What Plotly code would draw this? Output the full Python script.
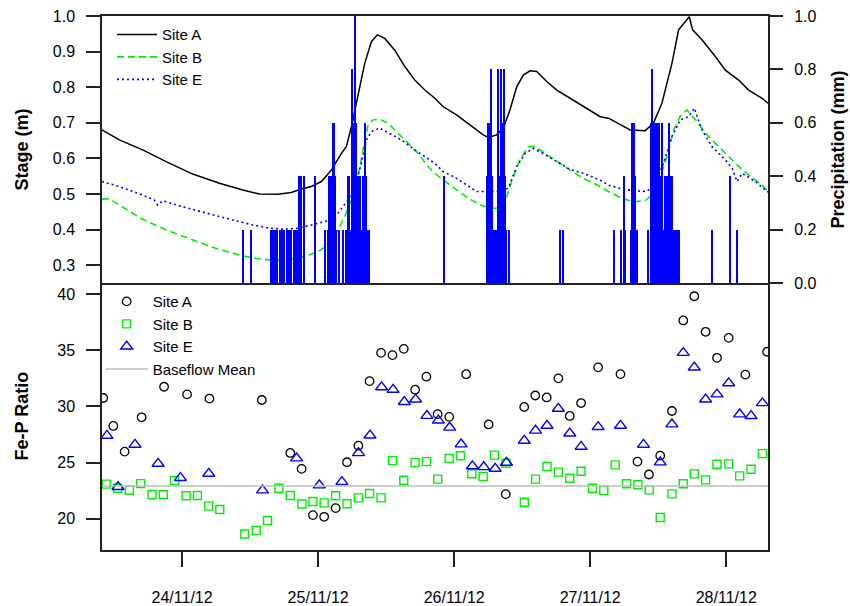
import pandas as pd
import plotly.graph_objects as go

# ---------------- data ----------------
BASE = pd.Timestamp("2012-11-24 00:00")        # hours below are counted from this instant
X_START = "2012-11-23 09:52"
X_END = "2012-11-28 07:22"

# Stage (m) – hours since BASE and values
stage_A_h = [-14.14, -11.08, -6.96, -2.83, 1.87, 6.59, 10.71, 13.66, 16.90, 19.26, 21.03, 22.80, 24.57,
             26.33, 28.10, 28.98, 29.87, 31.03, 32.22, 33.40, 34.46, 35.75, 37.52, 39.29, 41.05, 42.82,
             44.59, 46.06, 48.42, 50.77, 53.12, 54.01, 55.49, 56.66, 57.84, 59.03, 60.19, 61.38, 62.56,
             64.33, 66.10, 68.45, 70.80, 73.75, 75.22, 77.58, 79.05, 81.70, 83.17, 84.65, 86.42, 87.59,
             88.77, 89.48, 90.06, 91.72, 94.07, 95.84, 98.19, 99.96, 102.33, 103.39]
stage_A = [0.680, 0.652, 0.624, 0.591, 0.556, 0.530, 0.511, 0.500, 0.499, 0.504, 0.514, 0.521, 0.535,
           0.567, 0.614, 0.633, 0.689, 0.773, 0.867, 0.928, 0.947, 0.937, 0.904, 0.858, 0.820, 0.792,
           0.769, 0.745, 0.722, 0.694, 0.666, 0.659, 0.666, 0.685, 0.736, 0.801, 0.834, 0.846, 0.844,
           0.816, 0.792, 0.769, 0.745, 0.717, 0.713, 0.694, 0.680, 0.678, 0.699, 0.755, 0.867, 0.961,
           0.986, 0.998, 0.961, 0.933, 0.886, 0.848, 0.820, 0.792, 0.769, 0.755]

stage_B_h = [-14.14, -12.85, -11.08, -6.96, -2.83, 1.87, 6.01, 10.71, 13.08, 15.43, 16.90, 19.26, 21.61,
             23.96, 25.73, 27.22, 28.68, 29.87, 31.03, 31.92, 32.80, 33.68, 34.87, 36.34, 38.10, 39.87,
             41.64, 43.40, 44.59, 46.06, 48.42, 50.77, 53.12, 54.61, 56.08, 57.26, 58.43, 59.61, 61.08,
             62.26, 64.03, 66.10, 68.45, 70.80, 73.75, 75.22, 77.58, 79.63, 81.70, 82.88, 84.35, 85.54,
             86.70, 87.89, 89.07, 90.59, 92.89, 95.26, 97.61, 99.96, 102.33, 103.39]
stage_B = [0.485, 0.487, 0.469, 0.429, 0.399, 0.371, 0.347, 0.326, 0.319, 0.315, 0.313, 0.318, 0.324,
           0.338, 0.357, 0.390, 0.436, 0.483, 0.549, 0.624, 0.694, 0.708, 0.710, 0.699, 0.670, 0.642,
           0.614, 0.577, 0.558, 0.539, 0.511, 0.485, 0.466, 0.460, 0.460, 0.492, 0.549, 0.596, 0.633,
           0.633, 0.614, 0.591, 0.567, 0.544, 0.521, 0.507, 0.488, 0.478, 0.481, 0.497, 0.549, 0.605,
           0.680, 0.719, 0.736, 0.708, 0.661, 0.624, 0.586, 0.553, 0.525, 0.506]

stage_E_h = [-14.14, -11.08, -6.96, -4.90, -4.31, -3.43, 0.11, 4.24, 8.94, 12.48, 15.43, 18.08, 20.43,
             23.38, 25.45, 27.50, 29.27, 30.45, 31.63, 32.52, 33.40, 34.87, 36.64, 38.70, 41.05, 42.82,
             44.59, 46.06, 48.42, 51.96, 54.01, 56.08, 57.54, 59.03, 60.50, 61.96, 63.73, 66.10, 68.45,
             70.80, 73.75, 75.22, 77.58, 79.93, 82.00, 83.47, 84.94, 86.42, 87.89, 89.36, 90.36, 91.72,
             93.49, 95.84, 97.03, 97.91, 98.79, 101.14, 103.39]
stage_E = [0.535, 0.521, 0.497, 0.483, 0.469, 0.481, 0.464, 0.446, 0.427, 0.413, 0.404, 0.401, 0.404,
           0.415, 0.424, 0.446, 0.483, 0.521, 0.586, 0.652, 0.675, 0.685, 0.670, 0.652, 0.624, 0.605,
           0.586, 0.563, 0.544, 0.507, 0.507, 0.507, 0.516, 0.577, 0.614, 0.628, 0.614, 0.591, 0.569,
           0.558, 0.539, 0.525, 0.514, 0.509, 0.507, 0.530, 0.586, 0.661, 0.708, 0.717, 0.741, 0.680,
           0.633, 0.596, 0.572, 0.535, 0.558, 0.535, 0.505]

# Precipitation (mm), 15-minute totals (non-zero intervals only)
precip_h = [10.75, 12.25,
            15.75, 16.0, 16.25, 16.5, 16.75, 17.25, 17.5, 17.75, 18.0, 18.5, 18.75, 19.0, 19.25,
            19.75, 20.0, 20.25, 20.5, 20.75, 21.0, 21.5, 23.5, 25.25,
            25.75, 26.0, 26.25, 26.5, 26.75, 27.0, 27.25, 27.75, 28.5,
            29.0, 29.25, 29.5, 29.75, 30.0, 30.25, 30.5, 30.75, 31.0, 31.25, 31.5, 31.75, 32.0,
            32.25, 32.5, 32.75, 33.0,
            46.25,
            53.75, 54.0, 54.25, 54.5, 54.75, 55.0, 55.25, 55.5, 55.75, 56.0, 56.25, 56.5, 56.75,
            57.0, 57.25, 57.75,
            66.75, 67.25,
            76.25, 77.5, 78.0, 78.25, 79.25, 79.5, 79.75, 80.0, 80.25, 82.25,
            82.75, 83.0, 83.25, 83.5, 83.75, 84.0, 84.25, 84.5, 84.75, 85.0, 85.25, 85.5, 85.75,
            86.0, 86.25, 86.5, 86.75, 87.0, 87.25, 87.5, 87.75,
            93.5, 96.75, 98.0]
precip = [0.2, 0.2,
          0.2, 0.2, 0.2, 0.2, 0.2, 0.2, 0.2, 0.2, 0.2, 0.2, 0.2, 0.2, 0.2,
          0.2, 0.2, 0.2, 0.2, 0.4, 0.4, 0.4, 0.4, 0.2,
          0.2, 0.4, 0.4, 0.4, 0.6, 0.4, 0.2, 0.2, 0.2,
          0.2, 0.4, 0.4, 0.2, 0.8, 0.6, 1.0, 0.6, 0.4, 0.4, 0.4, 0.2, 0.4,
          0.6, 0.4, 0.2, 0.2,
          0.4,
          0.4, 0.6, 0.6, 0.8, 0.4, 0.2, 0.2, 0.2, 0.8, 0.4, 0.8, 0.6, 0.8,
          0.4, 0.2, 0.2,
          0.2, 0.2,
          0.2, 0.2, 0.4, 0.2, 0.2, 0.6, 0.6, 0.4, 0.2, 0.2,
          0.6, 0.8, 0.6, 0.6, 0.6, 0.4, 0.6, 0.4, 0.6, 0.2, 0.4, 0.4, 0.4,
          0.6, 0.4, 0.4, 0.2, 0.2, 0.2, 0.2, 0.2,
          0.2, 0.4, 0.2]

# Fe-P ratio samples – hours since BASE and values
feP_A_h = [-13.91, -12.14, -10.14, -7.14, -3.18, 0.88, 4.82, 14.07, 19.09, 21.08, 23.08, 25.06, 27.09,
           29.09, 31.10, 33.07, 35.10, 37.11, 39.11, 41.11, 43.10, 45.08, 47.12, 50.12, 54.08, 57.10,
           60.35, 62.31, 64.33, 66.38, 68.39, 70.39, 73.40, 77.34, 80.34, 82.36, 84.35, 86.42, 88.42,
           90.36, 92.36, 94.37, 96.42, 99.37, 103.21]
feP_A = [30.75, 28.26, 25.97, 29.03, 31.75, 31.07, 30.69, 30.57, 25.85, 24.43, 20.31, 20.16, 20.93,
         25.02, 26.50, 32.25, 34.77, 34.57, 35.13, 31.49, 32.65, 29.31, 29.07, 32.87, 28.39, 22.18,
         29.95, 30.97, 30.80, 32.50, 29.15, 30.30, 33.48, 32.88, 25.08, 23.93, 25.61, 29.59, 37.66,
         39.82, 36.65, 34.33, 36.11, 32.83, 34.87]

feP_B_h = [-13.38, -11.38, -9.31, -7.32, -5.30, -3.30, -1.31, 0.71, 2.70, 4.70, 6.65, 11.06, 13.08,
           15.08, 17.07, 19.09, 21.14, 23.08, 25.06, 27.09, 29.09, 31.10, 33.07, 35.10, 37.11, 39.11,
           41.11, 43.10, 45.10, 47.12, 49.10, 51.11, 53.11, 55.10, 57.14, 60.37, 62.35, 64.38, 66.38,
           68.39, 70.39, 72.39, 74.40, 76.40, 78.40, 80.41, 82.41, 84.35, 86.42, 88.42, 90.36, 92.36,
           94.37, 96.42, 98.37, 100.38, 102.38]
feP_B = [23.07, 22.71, 22.53, 23.12, 22.12, 22.12, 23.39, 22.03, 22.06, 21.11, 20.81, 18.62, 18.94,
         19.83, 22.71, 22.06, 21.30, 21.52, 21.40, 22.03, 21.32, 21.85, 22.23, 21.85, 25.17, 23.42,
         24.99, 25.08, 23.52, 25.36, 25.60, 24.00, 23.75, 25.66, 24.93, 21.46, 23.52, 24.64, 24.14,
         23.60, 24.22, 22.71, 22.50, 24.79, 23.10, 23.01, 22.56, 20.10, 22.20, 23.10, 23.99, 23.45,
         24.85, 24.88, 23.81, 24.40, 25.79]

feP_E_h = [-13.25, -11.31, -8.31, -4.24, -0.30, 4.70, 14.19, 20.20, 24.21, 28.19, 31.12, 33.15, 35.19,
           37.22, 39.20, 41.20, 43.19, 45.21, 47.20, 49.22, 51.22, 53.21, 55.23, 57.22, 60.37, 62.35,
           64.38, 66.38, 68.39, 70.39, 73.40, 77.34, 81.40, 84.35, 86.42, 88.42, 90.36, 92.36, 94.37,
           96.42, 98.37, 100.38, 102.38]
feP_E = [27.39, 22.83, 26.60, 24.90, 23.63, 24.01, 22.53, 25.38, 22.97, 23.28, 25.85, 27.42, 31.72,
         31.49, 30.40, 30.63, 29.17, 28.75, 28.12, 26.63, 24.68, 24.60, 24.45, 24.99, 26.95, 27.85,
         28.29, 29.80, 27.60, 26.41, 28.17, 28.29, 26.60, 25.02, 28.41, 34.78, 33.48, 30.63, 31.08,
         32.08, 29.30, 29.15, 30.30]

baseflow_mean = 22.9

date_ticks = ["2012-11-24", "2012-11-25", "2012-11-26", "2012-11-27", "2012-11-28"]
date_labels = ["24/11/12", "25/11/12", "26/11/12", "27/11/12", "28/11/12"]


def to_time(hours):
    return BASE + pd.to_timedelta(hours, unit="h")


GREEN = "#00EE00"
BLUE = "#0000FF"
FONT = "Arial, Liberation Sans, sans-serif"
AX = "#222222"

fig = go.Figure()

# ---- top panel: stage lines ----
fig.add_trace(go.Scatter(x=to_time(stage_A_h), y=stage_A, mode="lines", name="Site A",
                         line=dict(color="black", width=1.5), xaxis="x", yaxis="y", legend="legend"))
fig.add_trace(go.Scatter(x=to_time(stage_B_h), y=stage_B, mode="lines", name="Site B",
                         line=dict(color=GREEN, width=1.6, dash="7px,4px"), xaxis="x", yaxis="y",
                         legend="legend"))
fig.add_trace(go.Scatter(x=to_time(stage_E_h), y=stage_E, mode="lines", name="Site E",
                         line=dict(color=BLUE, width=1.6, dash="2px,3px"), xaxis="x", yaxis="y",
                         legend="legend"))
# precipitation bars (right axis)
fig.add_trace(go.Bar(x=to_time(precip_h), y=precip, width=0.27 * 3600 * 1000, name="Precipitation",
                     marker=dict(color=BLUE, line=dict(width=0)), xaxis="x", yaxis="y2",
                     showlegend=False))

# ---- bottom panel: Fe-P ratio ----
fig.add_trace(go.Scatter(x=to_time(feP_A_h), y=feP_A, mode="markers", name="Site A",
                         marker=dict(symbol="circle-open", size=8.5, color="black", line=dict(width=1.3)),
                         xaxis="x2", yaxis="y3", legend="legend2"))
fig.add_trace(go.Scatter(x=to_time(feP_B_h), y=feP_B, mode="markers", name="Site B",
                         marker=dict(symbol="square-open", size=8, color=GREEN, line=dict(width=1.4)),
                         xaxis="x2", yaxis="y3", legend="legend2"))
fig.add_trace(go.Scatter(x=to_time(feP_E_h), y=feP_E, mode="markers", name="Site E",
                         marker=dict(symbol="triangle-up-open", size=10.5, color=BLUE, line=dict(width=1.4)),
                         xaxis="x2", yaxis="y3", legend="legend2"))
fig.add_trace(go.Scatter(x=[X_START, X_END], y=[baseflow_mean, baseflow_mean], mode="lines",
                         name="Baseflow Mean", line=dict(color="#BEBEBE", width=1.5),
                         xaxis="x2", yaxis="y3", legend="legend2"))

tickfont = dict(family=FONT, size=16, color="black")

fig.update_layout(
    width=850, height=606,
    margin=dict(l=102, r=82, t=16, b=56, autoexpand=False),
    paper_bgcolor="white", plot_bgcolor="white",
    bargap=0,
    font=dict(family=FONT, size=16, color="black"),
    xaxis=dict(type="date", range=[X_START, X_END], domain=[0, 1], anchor="y",
               showticklabels=False, ticks="", showgrid=False, zeroline=False,
               showline=True, mirror=True, linecolor=AX, linewidth=1.5),
    xaxis2=dict(type="date", range=[X_START, X_END], domain=[0, 1], anchor="y3", matches="x",
                showgrid=False, zeroline=False, showline=True, mirror=False,
                linecolor=AX, linewidth=1.5,
                tickmode="array", tickvals=date_ticks, ticktext=date_labels,
                ticks="outside", ticklen=15, tickwidth=1.5, tickcolor=AX, tickfont=tickfont,
                ticklabelstandoff=17),
    yaxis=dict(domain=[0.5, 1], range=[0.25, 1.0], tickmode="array",
               tickvals=[0.3, 0.4, 0.5, 0.6, 0.7, 0.8, 0.9, 1.0], tickformat=".1f",
               ticks="outside", ticklen=14, tickwidth=1.5, tickcolor=AX, tickfont=tickfont,
               ticklabelstandoff=8, showgrid=False, zeroline=False,
               showline=True, linecolor=AX, linewidth=1.5, mirror=True),
    yaxis2=dict(overlaying="y", side="right", anchor="x", range=[0, 1.0], tickmode="array",
                tickvals=[0.0, 0.2, 0.4, 0.6, 0.8, 1.0], tickformat=".1f",
                ticks="outside", ticklen=14, tickwidth=1.5, tickcolor=AX, tickfont=tickfont,
                ticklabelstandoff=8, showgrid=False, zeroline=False, showline=False),
    yaxis3=dict(domain=[0, 0.5], range=[17.2, 41.0], anchor="x2", tickmode="array",
                tickvals=[20, 25, 30, 35, 40],
                ticks="outside", ticklen=14, tickwidth=1.5, tickcolor=AX, tickfont=tickfont,
                ticklabelstandoff=8, showgrid=False, zeroline=False,
                showline=True, linecolor=AX, linewidth=1.5, mirror=True),
    legend=dict(x=0.0150, y=0.996, xanchor="left", yanchor="top", bgcolor="rgba(0,0,0,0)",
                font=dict(family=FONT, size=15), itemwidth=40, tracegroupgap=0),
    legend2=dict(x=-0.002, y=0.496, xanchor="left", yanchor="top", bgcolor="rgba(0,0,0,0)",
                 font=dict(family=FONT, size=15), itemwidth=42, tracegroupgap=0),
    annotations=[
        dict(text="<b>Stage (m)</b>", textangle=-90, xref="paper", yref="paper",
             x=-0.1216, y=0.75, xanchor="center", yanchor="middle", showarrow=False,
             font=dict(family=FONT, size=18)),
        dict(text="<b>Fe-P Ratio</b>", textangle=-90, xref="paper", yref="paper",
             x=-0.1216, y=0.25, xanchor="center", yanchor="middle", showarrow=False,
             font=dict(family=FONT, size=18)),
        dict(text="<b>Precipitation (mm)</b>", textangle=-90, xref="paper", yref="paper",
             x=1.105, y=0.75, xanchor="center", yanchor="middle", showarrow=False,
             font=dict(family=FONT, size=18)),
    ],
)

fig.write_html("out.html", config={"displayModeBar": False},
               post_script="document.body.style.margin='0px';")
